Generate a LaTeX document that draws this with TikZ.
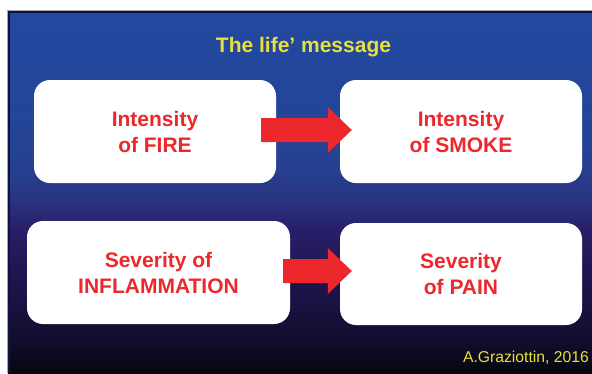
\documentclass[tikz,border=0pt]{standalone}
\usepackage{fontspec}
\setmainfont{Liberation Sans}
\usetikzlibrary{calc}
\definecolor{redc}{RGB}{236,40,44}
\definecolor{yelc}{RGB}{232,224,58}
\definecolor{navyedge}{RGB}{12,20,64}
\definecolor{g0}{RGB}{35,72,158}
\definecolor{g1}{RGB}{35,70,154}
\definecolor{g2}{RGB}{38,64,144}
\definecolor{g3}{RGB}{42,51,128}
\definecolor{g4}{RGB}{41,31,104}
\definecolor{g5}{RGB}{35,23,88}
\definecolor{g6}{RGB}{26,18,67}
\definecolor{g7}{RGB}{17,14,46}
\definecolor{g8}{RGB}{7,7,14}
\pgfdeclareverticalshading{slidebg}{100bp}{%
  color(0bp)=(g8); color(25bp)=(g8); color(29.6bp)=(g7); color(35.1bp)=(g6);
  color(40.6bp)=(g5); color(44.75bp)=(g4); color(48.9bp)=(g3); color(53bp)=(g2);
  color(62.7bp)=(g1); color(75bp)=(g0); color(100bp)=(g0)}
\tikzset{
  box/.style={fill=white, rounded corners=16pt, inner sep=0pt, align=center,
    text=redc, font=\fontsize{21}{26}\selectfont\bfseries},
  blockarrow/.style={fill=redc},
}
\begin{document}
\begin{tikzpicture}[x=1pt,y=-1pt]
\useasboundingbox[fill=white] (0,0) rectangle (592,373);
% slide background
\shade[shading=slidebg] (8,11) rectangle (592,373);
\draw[black!35, line width=1pt] (7.5,373) -- (7.5,10.5) -- (592,10.5);
\draw[navyedge, line width=2.2pt] (9,373) -- (9,12) -- (592,12);
% title
\node[anchor=base, text=yelc, font=\fontsize{21}{26}\selectfont\bfseries, inner sep=0pt] (title) at (303.5,52) {The life’ message};
% boxes
\node[box, minimum width=242pt, minimum height=103pt] (fire) at (155,131.5) {Intensity\\of FIRE};
\node[box, minimum width=242pt, minimum height=103pt] (smoke) at (461,131.5) {Intensity\\of SMOKE};
\node[box, minimum width=263pt, minimum height=103pt] (infl) at (158.5,272.5) {Severity of\\INFLAMMATION};
\node[box, minimum width=242pt, minimum height=102pt] (pain) at (461,274) {Severity\\of PAIN};
% arrows
\coordinate (a1s) at ($(fire.east)+(-15,-1.5)$);
\coordinate (a1e) at ($(smoke.west)+(12,-1.5)$);
\fill[blockarrow] ($(a1s)+(0,-12)$) -- ($(a1e)+(-24,-12)$) -- ($(a1e)+(-24,-23)$) -- (a1e)
  -- ($(a1e)+(-24,23)$) -- ($(a1e)+(-24,12)$) -- ($(a1s)+(0,12)$) -- cycle;
\coordinate (a2s) at ($(infl.east)+(-7,-1.5)$);
\coordinate (a2e) at ($(pain.west)+(12,-3)$);
\fill[blockarrow] ($(a2s)+(0,-12)$) -- ($(a2e)+(-24,-12)$) -- ($(a2e)+(-24,-23)$) -- (a2e)
  -- ($(a2e)+(-24,23)$) -- ($(a2e)+(-24,12)$) -- ($(a2s)+(0,12)$) -- cycle;
% credit
\node[anchor=base east, text=yelc, font=\fontsize{15.7}{18}\selectfont, inner sep=0pt] (credit) at (589,362) {A.Graziottin, 2016};
\end{tikzpicture}
\end{document}
